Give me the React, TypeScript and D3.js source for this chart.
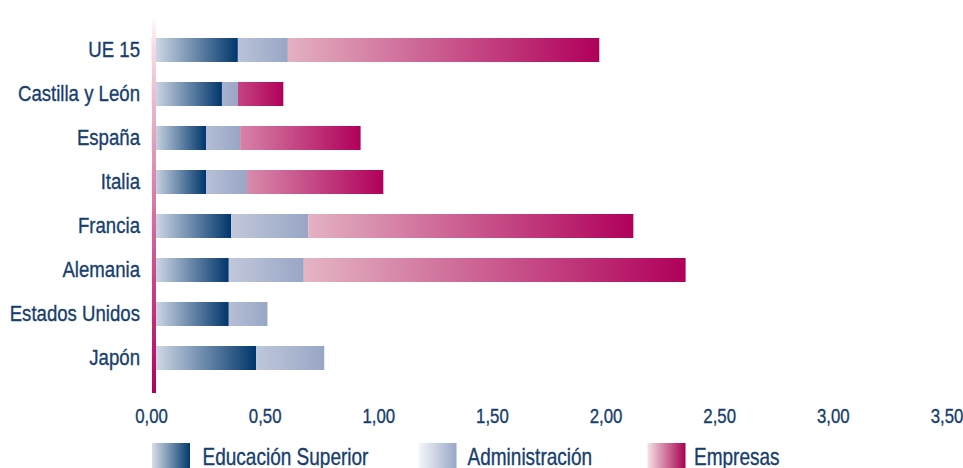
import React from "react";
import * as d3 from "d3";

const categories = [
  "UE 15",
  "Castilla y León",
  "España",
  "Italia",
  "Francia",
  "Alemania",
  "Estados Unidos",
  "Japón",
];
const educacionSuperior = [0.38, 0.31, 0.24, 0.24, 0.35, 0.34, 0.34, 0.46];
const administracion = [0.22, 0.07, 0.15, 0.18, 0.34, 0.33, 0.17, 0.3];
const empresas = [1.37, 0.2, 0.53, 0.6, 1.43, 1.68, 0, 0];
const tickValues = [0, 0.5, 1, 1.5, 2, 2.5, 3, 3.5];
const seriesKeys = ["edu", "adm", "emp"];
const seriesNames = ["Educación Superior", "Administración", "Empresas"];

const FONT = "'Liberation Sans', Arial, sans-serif";
const TEXT = "#173e6c";
const NARROW = 0.82;

const ramps: Record<string, { light: string; dark: string; tau: number }> = {
  edu: { light: "#d9dfeb", dark: "#00366b", tau: 0 },
  adm: { light: "#c8cedf", dark: "#98a6c5", tau: 40 },
  emp: { light: "#e5b8c5", dark: "#b0005a", tau: 95 },
};
const legendRamps: Record<string, [string, string]> = {
  edu: ["#d8deea", "#003a6c"],
  adm: ["#f6f7fa", "#98a7c6"],
  emp: ["#f5e1e7", "#a8004f"],
};

function NarrowText(props: {
  x: number;
  y: number;
  size: number;
  anchor?: "start" | "middle" | "end";
  children: React.ReactNode;
}) {
  return (
    <text
      transform={`translate(${props.x},${props.y}) scale(${NARROW},1)`}
      textAnchor={props.anchor || "start"}
      fontFamily={FONT}
      fontSize={props.size}
      fill={TEXT}
      stroke={TEXT}
      strokeWidth={0.35}
    >
      {props.children}
    </text>
  );
}

export default function App() {
  const W = 963;
  const H = 468;
  const x = d3.scaleLinear().domain([0, 3.5]).range([151.5, 947]);
  const y = d3
    .scaleBand<string>()
    .domain(categories)
    .range([28, 380])
    .paddingInner(20 / 44)
    .paddingOuter(10 / 44);

  const rows = categories.map((c, i) => ({
    cat: c,
    edu: educacionSuperior[i],
    adm: administracion[i],
    emp: empresas[i],
  }));
  const stacked = d3.stack<any>().keys(seriesKeys)(rows);
  const fmt = (v: number) => d3.format(".2f")(v).replace(".", ",");

  const segs: any[] = [];
  stacked.forEach((layer) => {
    layer.forEach((d: any, i: number) => {
      const x0 = x(d[0]);
      const x1 = x(d[1]);
      const w = x1 - x0;
      if (w <= 0.5) return;
      const r = ramps[layer.key];
      const t0 = r.tau > 0 ? Math.exp(-w / r.tau) : 0;
      segs.push({
        id: `g-${layer.key}-${i}`,
        key: layer.key,
        x: x0,
        y: y(categories[i])!,
        w,
        start: d3.interpolateRgb(r.light, r.dark)(t0),
        end: r.dark,
      });
    });
  });

  const legendX = [152, 418.5, 647.5];
  const legendTextX = [202.5, 467.5, 694];

  return (
    <div style={{ position: "absolute", left: 0, top: 0 }}>
      <svg width={W} height={H} style={{ display: "block", background: "#fff" }}>
        <defs>
          {segs.map((s) => (
            <linearGradient key={s.id} id={s.id} x1="0" x2="1" y1="0" y2="0">
              <stop offset="0" stopColor={s.start} />
              <stop offset="1" stopColor={s.end} />
            </linearGradient>
          ))}
          {seriesKeys.map((k) => (
            <linearGradient key={k} id={`leg-${k}`} x1="0" x2="1" y1="0" y2="0">
              <stop offset="0" stopColor={legendRamps[k][0]} />
              <stop offset="1" stopColor={legendRamps[k][1]} />
            </linearGradient>
          ))}
          <linearGradient id="axisGrad" x1="0" x2="0" y1="0" y2="1">
            <stop offset="0" stopColor="#ffffff" />
            <stop offset="0.08" stopColor="#f6dde5" />
            <stop offset="1" stopColor="#b0005a" />
          </linearGradient>
        </defs>

        {segs.map((s) => (
          <rect
            key={s.id}
            x={s.x}
            y={s.y}
            width={s.w}
            height={y.bandwidth()}
            fill={`url(#${s.id})`}
          />
        ))}

        <rect x={152} y={15} width={4} height={378} fill="url(#axisGrad)" />

        {categories.map((c) => (
          <NarrowText key={c} x={140} y={y(c)! + y.bandwidth() / 2 + 7} size={22.7} anchor="end">
            {c}
          </NarrowText>
        ))}

        {tickValues.map((t) => (
          <NarrowText key={t} x={x(t)} y={423} size={20.5} anchor="middle">
            {fmt(t)}
          </NarrowText>
        ))}

        {seriesKeys.map((k, i) => (
          <g key={k}>
            <rect x={legendX[i]} y={443} width={38} height={25} fill={`url(#leg-${k})`} />
            <NarrowText x={legendTextX[i]} y={465} size={23.2}>
              {seriesNames[i]}
            </NarrowText>
          </g>
        ))}
      </svg>
    </div>
  );
}
